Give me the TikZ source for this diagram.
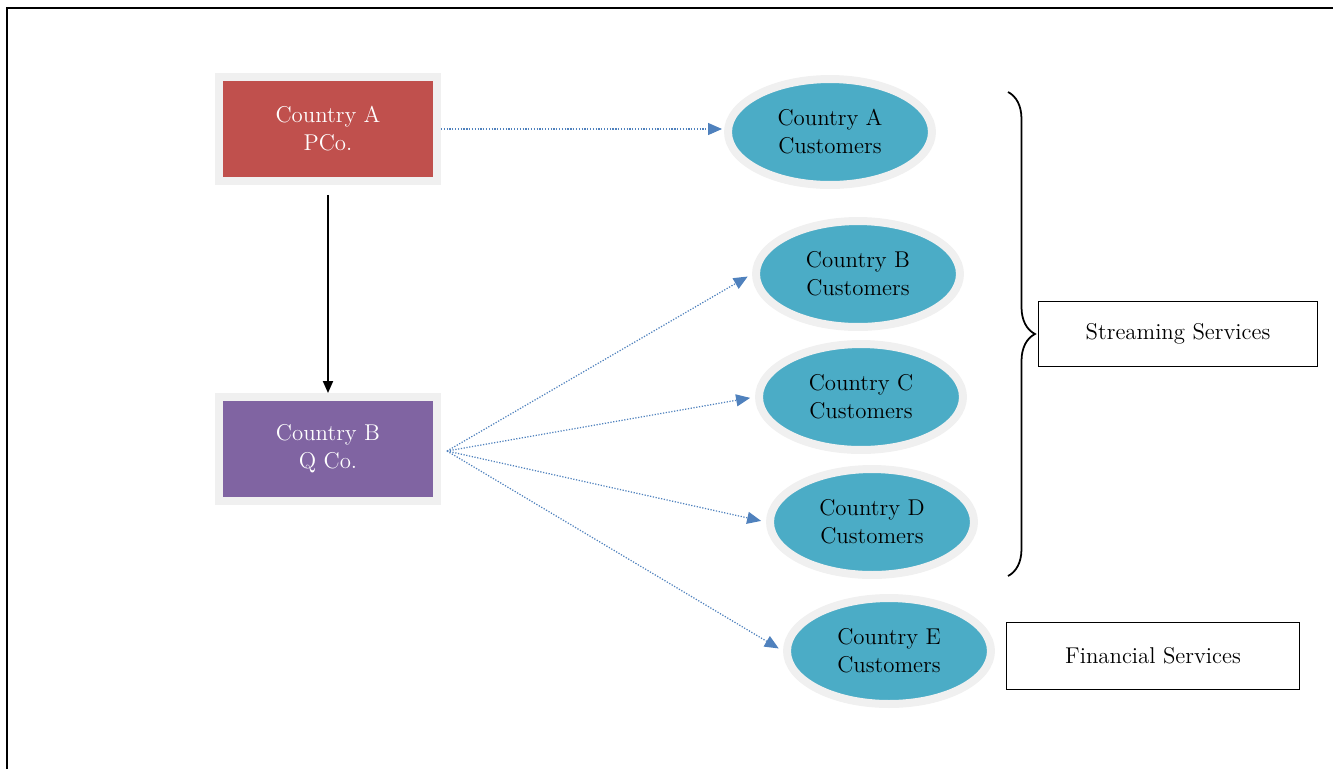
\documentclass[tikz,border=0pt]{standalone}
\usetikzlibrary{shapes.geometric,arrows.meta,decorations.pathreplacing}
\definecolor{firmred}{HTML}{C0504D}
\definecolor{firmpurple}{HTML}{8064A2}
\definecolor{custteal}{HTML}{4BACC6}
\definecolor{flowblue}{HTML}{4F81BD}
\definecolor{ringgrey}{HTML}{F0F0F0}
\begin{document}
\begin{tikzpicture}
  [x=0.02cm,y=-0.02cm,
   every node/.style={font=\fontsize{13}{16}\selectfont,align=center,inner sep=0pt},
   firm/.style={rectangle,draw=ringgrey,line width=0.16cm,minimum width=4.36cm,minimum height=2.08cm,text=white},
   cust/.style={ellipse,draw=ringgrey,line width=0.16cm,fill=custteal,minimum width=4.08cm,minimum height=2.12cm},
   servbox/.style={rectangle,draw=black,line width=0.8pt},
   flow/.style={draw=flowblue,line width=0.7pt,dash pattern=on 0.7pt off 0.9pt,-{Triangle[length=0.28cm,width=0.24cm]}}]
  \useasboundingbox (0,0) rectangle (1333,769);
  \draw[line width=1.6pt] (7,769) -- (7,8) -- (1333,8);

  \node[firm,fill=firmred] (pa) at (328,129) {Country A\\PCo.};
  \node[firm,fill=firmpurple] (qb) at (328,449) {Country B\\Q Co.};

  \node[cust] (ca) at (830,132) {Country A\\Customers};
  \node[cust] (cb) at (858,274) {Country B\\Customers};
  \node[cust] (cc) at (861,397) {Country C\\Customers};
  \node[cust] (cd) at (872,522) {Country D\\Customers};
  \node[cust] (ce) at (889,651) {Country E\\Customers};

  \node[servbox,minimum width=5.58cm,minimum height=1.3cm] (stream) at (1178,334) {Streaming Services};
  \node[servbox,minimum width=5.86cm,minimum height=1.34cm] (fin) at (1153,656) {Financial Services};

  \coordinate (fan) at (447,451);
  \coordinate (btop) at (1008,92);
  \coordinate (bbot) at (1008,576);

  \draw[line width=1.1pt,-{Triangle[length=0.24cm,width=0.2cm]},shorten <=0.2cm] (pa) -- (qb);
  \draw[flow,shorten >=0.04cm] (pa.east) -- (pa.east -| ca.west);
  \foreach \to in {cb,cc,cd,ce}
    \draw[flow,shorten >=0.1cm] (fan) -- (\to.west);

  \draw[line width=1pt,decorate,decoration={brace,amplitude=0.54cm}] (btop) -- (bbot);

\end{tikzpicture}
\end{document}
